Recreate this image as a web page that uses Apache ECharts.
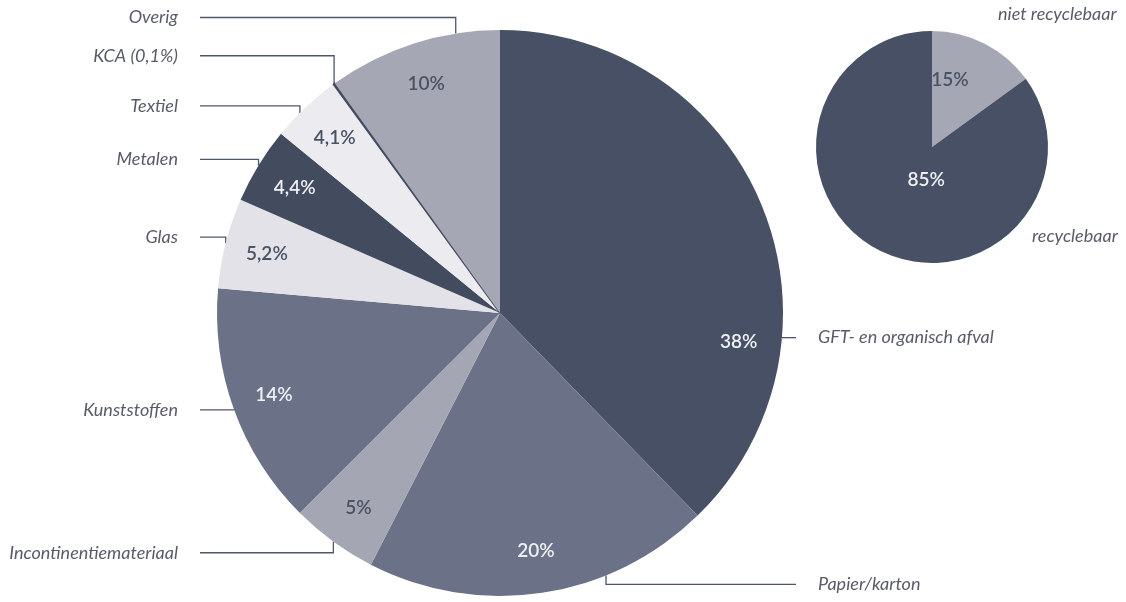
<!DOCTYPE html>
<html>
<head>
<meta charset="utf-8">
<script src="https://cdn.jsdelivr.net/npm/echarts@6/dist/echarts.min.js"></script>
<style>
html,body{margin:0;padding:0;background:#fff}
#chart{width:1126px;height:602px}
</style>
</head>
<body>
<div id="chart"></div>
<script>
// afvalsamenstelling (huishoudelijk restafval)
const categories = ['GFT- en organisch afval', 'Papier/karton', 'Incontinentiemateriaal', 'Kunststoffen', 'Glas', 'Metalen', 'Textiel', 'KCA (0,1%)', 'Overig']
const shares = [38, 20, 5, 14, 5.2, 4.4, 4.1, 0.1, 10]
const shareLabels = ['38%', '20%', '5%', '14%', '5,2%', '4,4%', '4,1%', '', '10%']

const recycleCats = ['niet recyclebaar', 'recyclebaar']
const recycleShares = [15, 85]
const recycleLabels = ['15%', '85%']

// layout / styles
const CX = 500, CY = 313, R = 283
const SCX = 932, SCY = 147, SR = 116
const mainColors = ['#475064', '#6b7186', '#a4a6b4', '#6b7186', '#e2e2e8', '#434b5e', '#ebebf0', '#434b5e', '#a5a7b4']
const mainTextColors = ['#eef0f4', '#eef0f4', '#4a5265', '#eef0f4', '#4a5265', '#eef0f4', '#4a5265', '#4a5265', '#4a5265']
const smallColors = ['#a5a7b4', '#475064']
const smallTextColors = ['#4a5265', '#eef0f4']
// where leader lines touch the pie and how far the label sits above that point
const leader = { 0: { angle: 95, rise: 0 }, 1: { angle: 158, rise: -9 }, 2: { rise: -11 }, 3: { rise: 0 }, 6: { angle: 315, rise: 7 }, 7: { rise: 28 }, 8: { angle: 351, rise: 16 } }
const innerSpot = { 0: { angle: 97 } }
const smallInner = { 0: { angle: 15, dist: 0.6 }, 1: { angle: 190, dist: 0.29 } }
const smallNameSpot = { 0: [66, -133], 1: [100, 89] }
const LEFT_TEXT = 178, LEFT_LINE = 200, RIGHT_LINE = 796, RIGHT_TEXT = 818

const nameFont = { fontFamily: 'Lato', fontStyle: 'italic', fontWeight: 'normal', fontSize: 18, color: '#585c68' }
const pctFont = { fontFamily: 'Lato', fontSize: 19, fontWeight: 600 }

function midAngles(vals) {
	const tot = vals.reduce((a, b) => a + b, 0)
	let acc = 0
	return vals.map(v => {
		const a = (acc + v / 2) / tot * 360
		acc += v
		return a
	})
}
function polar(cx, cy, r, deg) {
	const t = deg * Math.PI / 180
	return [cx + r * Math.sin(t), cy - r * Math.cos(t)]
}
const mainMid = midAngles(shares)

const chart = echarts.init(document.getElementById('chart'))
const option = {
	animation: false,
	series: [{
		// sectoren + percentages
		type: 'pie',
		center: [CX, CY],
		radius: R,
		silent: true,
		avoidLabelOverlap: false,
		data: categories.map((c, i) => ({
			name: c,
			value: shares[i],
			itemStyle: c.startsWith('KCA')
				? { color: mainColors[i], borderColor: mainColors[i], borderWidth: 1.5 }
				: { color: mainColors[i] },
			label: { color: mainTextColors[i] }
		})),
		label: {
			show: true,
			position: 'inside',
			...pctFont,
			formatter: p => shareLabels[p.dataIndex]
		},
		labelLine: { show: false },
		labelLayout: p => {
			const s = innerSpot[p.dataIndex] || {}
			const pt = polar(CX, CY, R * (s.dist || 0.85), s.angle != null ? s.angle : mainMid[p.dataIndex])
			return { x: pt[0], y: pt[1], align: 'center', verticalAlign: 'middle' }
		}
	}, {
		// namen met verbindingslijnen
		type: 'pie',
		center: [CX, CY],
		radius: R,
		silent: true,
		avoidLabelOverlap: false,
		itemStyle: { color: 'rgba(0,0,0,0)' },
		data: categories.map((c, i) => ({ name: c, value: shares[i] })),
		label: { show: true, position: 'outside', formatter: '{b}', ...nameFont },
		labelLine: { show: true, lineStyle: { color: '#4e566a', width: 1.3 } },
		labelLayout: p => {
			const i = p.dataIndex
			const cfg = leader[i] || {}
			const anchor = polar(CX, CY, R, cfg.angle != null ? cfg.angle : mainMid[i])
			const y = anchor[1] - (cfg.rise != null ? cfg.rise : 6)
			const left = anchor[0] < CX
			const lineEnd = left ? LEFT_LINE : RIGHT_LINE
			return {
				x: left ? LEFT_TEXT : RIGHT_TEXT,
				y: y,
				align: left ? 'right' : 'left',
				verticalAlign: 'middle',
				labelLinePoints: [anchor, [anchor[0], y], [lineEnd, y]]
			}
		}
	}, {
		type: 'pie',
		center: [SCX, SCY],
		radius: SR,
		silent: true,
		avoidLabelOverlap: false,
		data: recycleCats.map((c, i) => ({
			name: c,
			value: recycleShares[i],
			itemStyle: { color: smallColors[i] },
			label: { color: smallTextColors[i] }
		})),
		label: {
			show: true,
			position: 'inside',
			...pctFont,
			formatter: p => recycleLabels[p.dataIndex]
		},
		labelLine: { show: false },
		labelLayout: p => {
			const s = smallInner[p.dataIndex]
			const pt = polar(SCX, SCY, SR * s.dist, s.angle)
			return { x: pt[0], y: pt[1], align: 'center', verticalAlign: 'middle' }
		}
	}, {
		type: 'pie',
		center: [SCX, SCY],
		radius: SR,
		silent: true,
		avoidLabelOverlap: false,
		itemStyle: { color: 'rgba(0,0,0,0)' },
		data: recycleCats.map((c, i) => ({ name: c, value: recycleShares[i] })),
		label: { show: true, position: 'outside', formatter: '{b}', ...nameFont },
		labelLine: { show: false },
		labelLayout: p => {
			const d = smallNameSpot[p.dataIndex]
			return { x: SCX + d[0], y: SCY + d[1], align: 'left', verticalAlign: 'middle' }
		}
	}]
}
chart.setOption(option)
</script>
</body>
</html>
